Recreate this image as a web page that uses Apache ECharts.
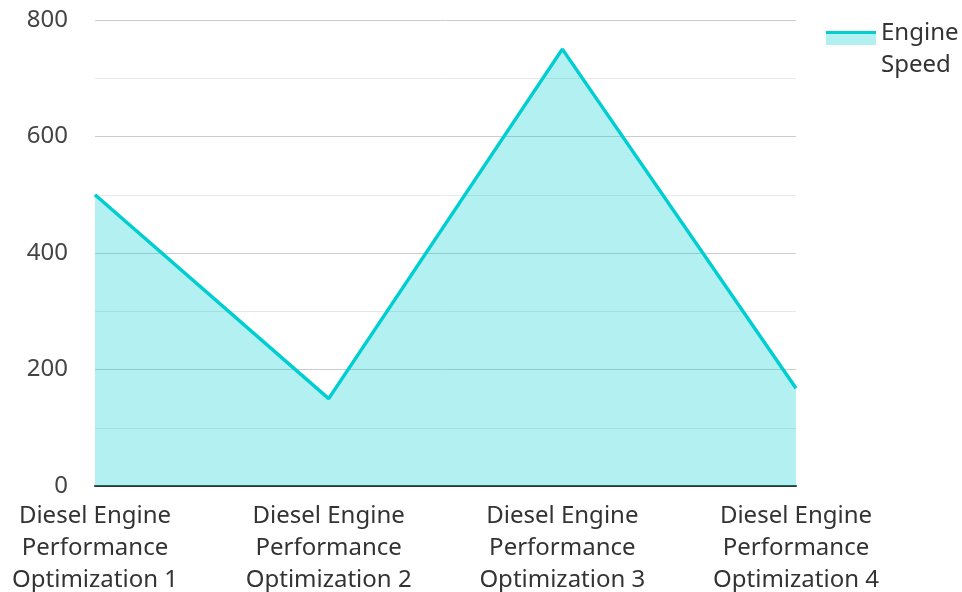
<!DOCTYPE html>
<html><head><meta charset="utf-8">
<script src="https://cdn.jsdelivr.net/npm/echarts@6/dist/echarts.min.js"></script>
<style>html,body{margin:0;padding:0;background:#fff}#c{width:962px;height:592px}</style>
</head><body><div id="c"></div>
<script>
const categories = ["Diesel Engine\nPerformance\nOptimization 1","Diesel Engine\nPerformance\nOptimization 2","Diesel Engine\nPerformance\nOptimization 3","Diesel Engine\nPerformance\nOptimization 4"];
const engineSpeed = [500, 150, 750, 168];
const seriesName = "Engine Speed";
const chart = echarts.init(document.getElementById('c'));
chart.setOption({
  animation:false,
  textStyle:{fontFamily:'Noto Sans'},
  grid:{left:95,right:166,top:20,bottom:106,outerBoundsMode:'none',containLabel:false},
  legend:{
    left:821, top:12, orient:'vertical',
    itemWidth:50, itemHeight:36, itemGap:10,
    icon:'rect',
    formatter: n => n.replace(' ', '\n'),
    textStyle:{fontSize:24, color:'#333', lineHeight:32, fontFamily:'Noto Sans'},
    itemStyle:{color:new echarts.graphic.LinearGradient(0,0,0,1,[{offset:0,color:'#00CED1'},{offset:0.09,color:'#00CED1'},{offset:0.09,color:'#b3f0f1'},{offset:0.39,color:'#b3f0f1'},{offset:0.39,color:'rgba(255,255,255,0)'},{offset:1,color:'rgba(255,255,255,0)'}]), borderWidth:0},
    lineStyle:{width:0,opacity:0}
  },
  xAxis:{type:'category',data:categories,boundaryGap:false,
    axisLine:{lineStyle:{color:'#333',width:2}},
    axisTick:{show:false},
    axisLabel:{fontSize:24,color:'#333',lineHeight:32,margin:14,interval:0,fontFamily:'Noto Sans'}
  },
  yAxis:{type:'value',min:0,max:800,interval:200,
    axisLine:{show:false},axisTick:{show:false},
    axisLabel:{fontSize:24,color:'#444',margin:27,fontFamily:'Noto Sans'},
    splitLine:{lineStyle:{color:'#cccccc',width:1}},
    minorTick:{show:false,splitNumber:2},
    minorSplitLine:{show:true,lineStyle:{color:'#e8e8e8',width:1}}
  },
  series:[{name:seriesName,type:'line',data:engineSpeed,symbol:'none',
    lineStyle:{color:'#00CED1',width:3.5},
    itemStyle:{color:'#00CED1'},
    areaStyle:{color:'#00CED1',opacity:0.3}
  }]
});
</script></body></html>
